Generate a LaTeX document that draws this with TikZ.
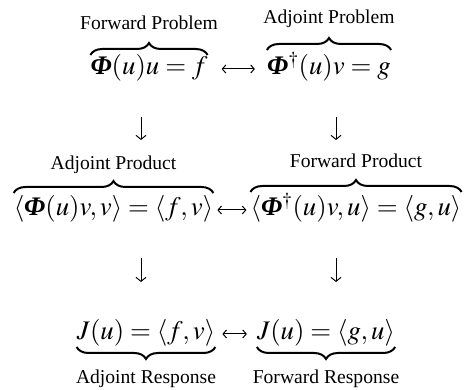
\documentclass[tikz,border=0pt]{standalone}
\usepackage{amsmath}
\usepackage{mathptmx}
\usepackage[no-math]{fontspec}
\setmainfont{Liberation Serif}
\usetikzlibrary{arrows.meta,decorations.pathreplacing}
\newcommand{\bPhi}{\mbox{\bfseries\itshape Φ}}
\tikzset{
  eqn/.style={inner sep=0pt,anchor=base,font=\fontsize{26.8}{32}\selectfont},
  lbl/.style={inner sep=0pt,anchor=base,font=\fontsize{19.6}{24}\selectfont},
  brc/.style={decorate,decoration={brace,amplitude=12pt},line width=2pt},
  darr/.style={-{Straight Barb[length=4pt,width=10pt]},line width=1pt},
  harr/.style={{Straight Barb[length=3.5pt,width=8pt]}-{Straight Barb[length=3.5pt,width=8pt]},line width=1pt}
}

\begin{document}
\begin{tikzpicture}[x=1pt,y=1pt]
\useasboundingbox (0,0) rectangle (466,390);

% problems
\node[eqn] (fwdeq) at (149,315) {$\bPhi(u)u = f$};
\node[eqn] (adjeq) at (329,315) {$\bPhi^{\dagger}(u)v = g$};

% products
\node[eqn] (adjprod) at (113.5,174) {$\langle\bPhi(u)v,v\rangle = \langle f,v\rangle$};
\node[eqn] (fwdprod) at (356,174) {$\langle\bPhi^{\dagger}(u)v,u\rangle = \langle g,u\rangle$};

% responses
\node[eqn] (adjresp) at (146,50) {$J(u) = \langle f,v\rangle$};
\node[eqn] (fwdresp) at (326,50) {$J(u) = \langle g,u\rangle$};

\coordinate (colL) at (141,0);
\coordinate (colR) at (336,0);

% braces and their labels
\draw[brc] ([yshift=20pt]fwdeq.base west) -- ([yshift=20pt]fwdeq.base east);
\draw[brc] ([yshift=25pt]adjeq.base west) -- ([yshift=25pt]adjeq.base east);
\draw[brc] ([yshift=23pt]adjprod.base west) -- ([yshift=23pt]adjprod.base east);
\draw[brc] ([yshift=24pt]fwdprod.base west) -- ([yshift=24pt]fwdprod.base east);
\draw[brc] ([yshift=-7pt]adjresp.base east) -- ([yshift=-7pt]adjresp.base west);
\draw[brc] ([yshift=-7pt]fwdresp.base east) -- ([yshift=-7pt]fwdresp.base west);

\node[lbl] (fwdeqlbl) at ([yshift=45pt]fwdeq.base) {Forward Problem};
\node[lbl] (adjeqlbl) at ([yshift=51pt]adjeq.base) {Adjoint Problem};
\node[lbl] (adjprodlbl) at ([yshift=46pt]adjprod.base) {Adjoint Product};
\node[lbl] (fwdprodlbl) at ([yshift=48pt]fwdprod.base) {Forward Product};
\node[lbl] (adjresplbl) at ([yshift=-44pt]adjresp.base) {Adjoint Response};
\node[lbl] (fwdresplbl) at ([yshift=-44pt]fwdresp.base) {Forward Response};

% horizontal links
\draw[harr,shorten <=14pt,shorten >=12pt] ([yshift=6pt]fwdeq.base east) -- ([yshift=6pt]adjeq.base west);
\draw[harr,shorten <=4pt,shorten >=4pt] ([yshift=6pt]adjprod.base east) -- ([yshift=6pt]fwdprod.base west);
\draw[harr,shorten <=7pt,shorten >=10pt] ([yshift=6pt]adjresp.base east) -- ([yshift=6pt]fwdresp.base west);

% vertical steps
\draw[darr,shorten <=42pt,shorten >=76pt] (fwdeq.base -| colL) -- (adjprod.base -| colL);
\draw[darr,shorten <=42pt,shorten >=76pt] (adjeq.base -| colR) -- (fwdprod.base -| colR);
\draw[darr,shorten <=42pt,shorten >=58pt] (adjprod.base -| colL) -- (adjresp.base -| colL);
\draw[darr,shorten <=42pt,shorten >=58pt] (fwdprod.base -| colR) -- (fwdresp.base -| colR);

\end{tikzpicture}
\end{document}
